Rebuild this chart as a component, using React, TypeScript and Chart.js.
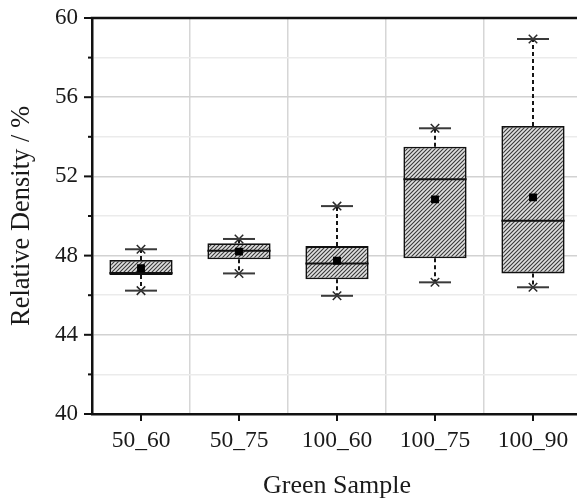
import React, { useEffect, useRef } from "react";
import { Chart, registerables } from "chart.js";

Chart.register(...registerables);

const categories = ["50_60", "50_75", "100_60", "100_75", "100_90"];
const minVals = [46.23, 47.1, 45.97, 46.65, 46.4];
const q1Vals = [47.02, 47.81, 46.8, 47.86, 47.1];
const medianVals = [47.12, 48.25, 47.6, 51.85, 49.76];
const q3Vals = [47.78, 48.62, 48.48, 53.5, 54.55];
const maxVals = [48.32, 48.84, 50.5, 54.43, 58.94];
const meanVals = [47.36, 48.2, 47.74, 50.84, 50.94];
const yMin = 40;
const yMax = 60;
const yStep = 2;
const yLabelStep = 4;

const FONT = "'Liberation Serif', 'Times New Roman', serif";

function makeHatch(): CanvasPattern | string {
  const c = document.createElement("canvas");
  c.width = 4;
  c.height = 4;
  const g = c.getContext("2d");
  if (!g) return "#bbb";
  g.fillStyle = "#e0e0e0";
  g.fillRect(0, 0, 4, 4);
  g.strokeStyle = "#383838";
  g.lineWidth = 1.1;
  g.beginPath();
  g.moveTo(0, 4);
  g.lineTo(4, 0);
  g.moveTo(-1, 1);
  g.lineTo(1, -1);
  g.moveTo(3, 5);
  g.lineTo(5, 3);
  g.stroke();
  const p = g.createPattern(c, "repeat");
  return p || "#bbb";
}

const extrasPlugin = {
  id: "boxExtras",
  beforeDatasetsDraw(chart: any) {
    const { ctx, scales } = chart;
    const x = scales.x;
    const y = scales.y;
    ctx.save();
    ctx.strokeStyle = "#151515";
    ctx.lineWidth = 2;
    ctx.setLineDash([4, 3]);
    categories.forEach((_, i) => {
      const px = x.getPixelForValue(i);
      ctx.beginPath();
      ctx.moveTo(px, y.getPixelForValue(q3Vals[i]));
      ctx.lineTo(px, y.getPixelForValue(maxVals[i]));
      ctx.stroke();
      ctx.beginPath();
      ctx.moveTo(px, y.getPixelForValue(q1Vals[i]));
      ctx.lineTo(px, y.getPixelForValue(minVals[i]));
      ctx.stroke();
    });
    ctx.restore();
  },
  afterDatasetDraw(chart: any, args: any) {
    if (args.index !== 0) return;
    const { ctx, scales } = chart;
    const y = scales.y;
    ctx.save();
    ctx.strokeStyle = "#111";
    ctx.lineWidth = 2;
    args.meta.data.forEach((bar: any, i: number) => {
      const p = bar.getProps(["x", "width"], true);
      const py = y.getPixelForValue(medianVals[i]);
      ctx.beginPath();
      ctx.moveTo(p.x - p.width / 2, py);
      ctx.lineTo(p.x + p.width / 2, py);
      ctx.stroke();
    });
    ctx.restore();
  },
  afterDraw(chart: any) {
    const { ctx, scales, chartArea } = chart;
    const x = scales.x;
    const y = scales.y;
    ctx.save();
    ctx.strokeStyle = "#111";
    ctx.lineWidth = 2.5;
    ctx.beginPath();
    ctx.moveTo(chartArea.left - 1.25, chartArea.top);
    ctx.lineTo(chart.width, chartArea.top);
    ctx.stroke();
    ctx.lineWidth = 2;
    for (let v = yMin; v <= yMax + 1e-9; v += yStep) {
      const py = y.getPixelForValue(v);
      const len = v % yLabelStep === 0 ? 8 : 4;
      ctx.beginPath();
      ctx.moveTo(chartArea.left, py);
      ctx.lineTo(chartArea.left - len, py);
      ctx.stroke();
    }
    categories.forEach((_, i) => {
      const px = x.getPixelForValue(i);
      ctx.beginPath();
      ctx.moveTo(px, chartArea.bottom);
      ctx.lineTo(px, chartArea.bottom + 7);
      ctx.stroke();
    });
    ctx.restore();
  },
};

export default function App() {
  const ref = useRef<HTMLCanvasElement | null>(null);

  useEffect(() => {
    if (!ref.current) return;
    const hatch = makeHatch();
    const extremes: any[] = [];
    categories.forEach((c, i) => {
      extremes.push({ x: c, y: maxVals[i] });
      extremes.push({ x: c, y: minVals[i] });
    });
    const chart = new Chart(ref.current, {
      type: "bar",
      data: {
        labels: categories,
        datasets: [
          {
            type: "bar",
            label: "box",
            data: categories.map((_, i) => [q1Vals[i], q3Vals[i]]) as any,
            backgroundColor: hatch as any,
            borderColor: "#111",
            borderWidth: 1.8,
            borderSkipped: false,
            barPercentage: 0.645,
            categoryPercentage: 1,
            grouped: false,
            order: 3,
          },
          {
            type: "line",
            label: "extremes-bar",
            data: extremes,
            showLine: false,
            pointStyle: "line",
            pointRadius: 16,
            pointBorderColor: "#3a3a3a",
            pointBorderWidth: 2,
            order: 2,
          } as any,
          {
            type: "line",
            label: "extremes-x",
            data: extremes,
            showLine: false,
            pointStyle: "crossRot",
            pointRadius: 6,
            pointBorderColor: "#2a2a2a",
            pointBorderWidth: 1.5,
            order: 2,
          } as any,
          {
            type: "line",
            label: "mean",
            data: meanVals,
            showLine: false,
            pointStyle: "rect",
            pointRadius: 5.6,
            pointBackgroundColor: "#000",
            pointBorderColor: "#000",
            pointBorderWidth: 0,
            order: 1,
          } as any,
        ],
      },
      options: {
        responsive: false,
        animation: false,
        devicePixelRatio: 1,
        layout: { padding: { top: 18, right: 8, left: 0, bottom: 0 } },
        plugins: {
          legend: { display: false },
          tooltip: { enabled: false },
        },
        scales: {
          x: {
            type: "category",
            offset: true,
            grid: {
              offset: true,
              color: "#d6d6d6",
              lineWidth: 1.5,
              drawTicks: false,
            },
            border: { color: "#111", width: 2.5 },
            ticks: {
              color: "#1a1a1a",
              font: { family: FONT, size: 23.5 },
              padding: 13,
              maxRotation: 0,
            },
            title: {
              display: true,
              text: "Green Sample",
              color: "#1a1a1a",
              font: { family: FONT, size: 26 },
              padding: { top: 0, bottom: 0 },
            },
            afterFit(scale: any) {
              scale.height = 88;
              scale.paddingLeft = 0;
              scale.paddingRight = 0;
            },
          },
          y: {
            min: yMin,
            max: yMax,
            grid: {
              color: (c: any) =>
                c.tick && c.tick.value % yLabelStep === 0 ? "#d2d2d2" : "#ebebeb",
              lineWidth: 1.5,
              drawTicks: false,
            },
            border: { color: "#111", width: 2.5 },
            ticks: {
              stepSize: yStep,
              color: "#1a1a1a",
              font: { family: FONT, size: 23 },
              padding: 14,
              callback: (v: any) => (Number(v) % yLabelStep === 0 ? String(v) : ""),
            },
            title: {
              display: true,
              text: "Relative Density / %",
              color: "#1a1a1a",
              font: { family: FONT, size: 26.5 },
              padding: { top: 6, bottom: 0 },
            },
            afterFit(scale: any) {
              scale.width = 92;
              scale.paddingTop = 0;
              scale.paddingBottom = 0;
            },
          },
        },
      },
      plugins: [extrasPlugin],
    });
    return () => chart.destroy();
  }, []);

  return (
    <div
      style={{
        position: "fixed",
        left: 0,
        top: 0,
        width: 577,
        height: 502,
        overflow: "hidden",
        background: "#fff",
      }}
    >
      <canvas ref={ref} width={600} height={502} style={{ width: 600, height: 502, display: "block" }} />
    </div>
  );
}
